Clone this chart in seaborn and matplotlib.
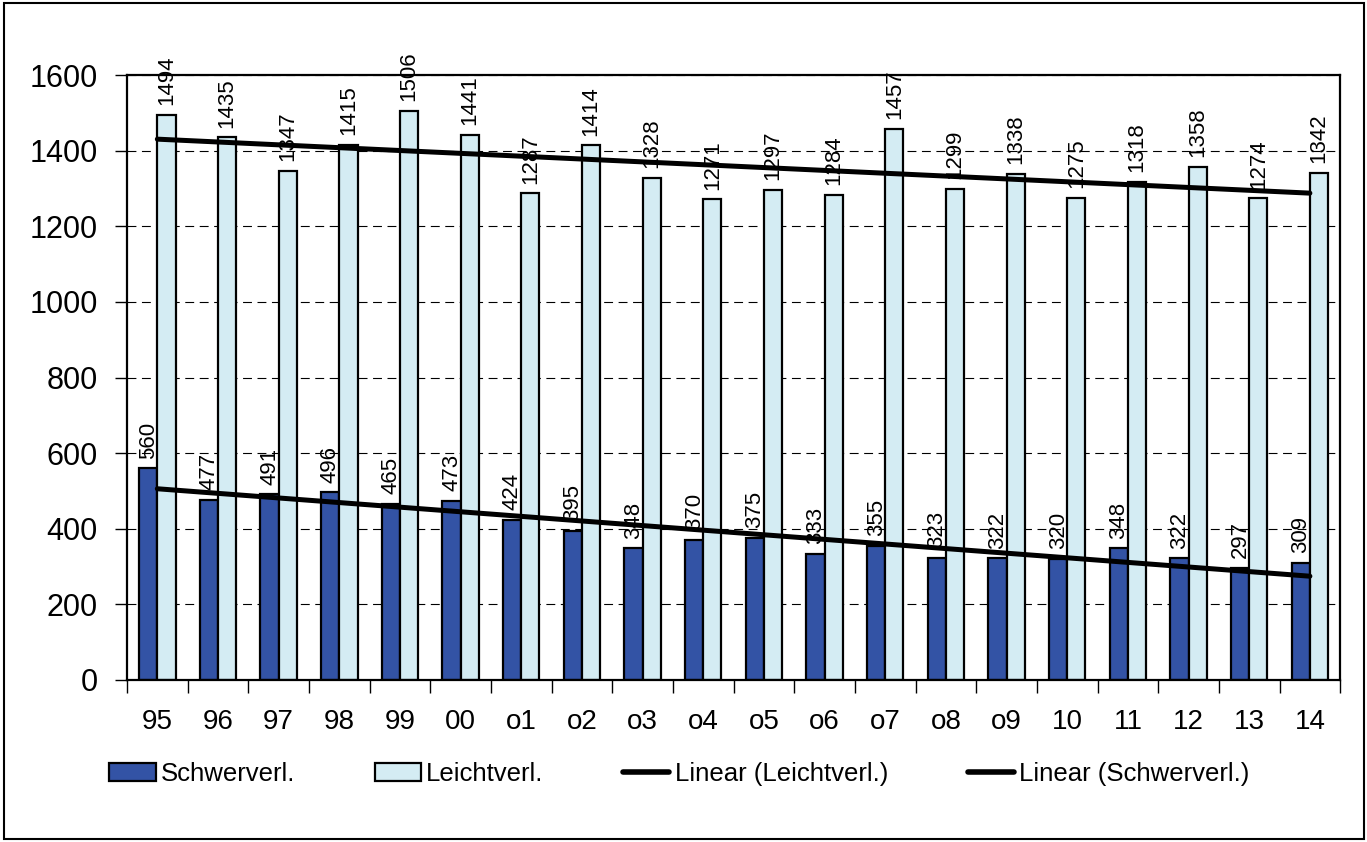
import numpy as np
import pandas as pd
import matplotlib
matplotlib.use('Agg')
import matplotlib.pyplot as plt
import seaborn as sns
from matplotlib.patches import Patch, Rectangle
from matplotlib.lines import Line2D

# ── Data ─────────────────────────────────────────────────────────────────────
years = ['95', '96', '97', '98', '99', '00', 'o1', 'o2', 'o3', 'o4',
         'o5', 'o6', 'o7', 'o8', 'o9', '10', '11', '12', '13', '14']
schwer = [560, 477, 491, 496, 465, 473, 424, 395, 348, 370,
          375, 333, 355, 323, 322, 320, 348, 322, 297, 309]
leicht = [1494, 1435, 1347, 1415, 1506, 1441, 1287, 1414, 1328, 1271,
          1297, 1284, 1457, 1299, 1338, 1275, 1318, 1358, 1274, 1342]
series = ['Schwerverl.', 'Leichtverl.']
colors = {'Schwerverl.': '#3353A5', 'Leichtverl.': '#D4ECF3'}

df = pd.DataFrame({
    'Jahr': years * 2,
    'Serie': [series[0]] * len(years) + [series[1]] * len(years),
    'Wert': schwer + leicht,
})

sns.set_theme(style='white')
plt.rcParams['font.family'] = ['Liberation Sans', 'DejaVu Sans']
plt.rcParams['text.color'] = 'black'
plt.rcParams['xtick.color'] = 'black'
plt.rcParams['ytick.color'] = 'black'

fig = plt.figure(figsize=(13.67, 8.42), dpi=100)
ax = fig.add_axes([0.0929, 0.1924, 0.8875, 0.7185])

sns.barplot(data=df, x='Jahr', y='Wert', hue='Serie', order=years,
            hue_order=series, palette=colors, width=0.6, dodge=True,
            edgecolor='black', linewidth=1.6, saturation=1, ax=ax)
ax.get_legend().remove()

for cont in ax.containers:
    ax.bar_label(cont, rotation=90, padding=7, fontsize=16)

# linear trend lines
idx = np.arange(len(years))
sns.regplot(x=idx, y=np.array(leicht), scatter=False, ci=None,
            color='black', line_kws={'lw': 3.6}, ax=ax)
sns.regplot(x=idx, y=np.array(schwer), scatter=False, ci=None,
            color='black', line_kws={'lw': 3.6}, ax=ax)

# ── Axes styling ─────────────────────────────────────────────────────────────
ax.set_xlim(-0.5, len(years) - 0.5)
ax.set_ylim(0, 1600)
ax.set_yticks(np.arange(0, 1601, 200))
ax.set_xticks(idx)
ax.set_xticklabels(years)
ax.set_xticks(np.arange(-0.5, len(years)), minor=True)
ax.set_xlabel('')
ax.set_ylabel('')
ax.tick_params(axis='x', which='major', length=0, pad=21, labelsize=20)
ax.tick_params(axis='x', which='minor', length=9, width=1, color='black',
               direction='out', bottom=True)
ax.tick_params(axis='y', length=9, width=1, color='black', direction='out',
               left=True, labelsize=22, pad=12)
ax.yaxis.grid(True, linestyle=(0, (8, 5)), color='black', linewidth=0.8)
ax.set_axisbelow(True)
for sp in ax.spines.values():
    sp.set_color('black')
    sp.set_linewidth(1.6)

# ── Legend ───────────────────────────────────────────────────────────────────
handles = [
    Patch(facecolor=colors['Schwerverl.'], edgecolor='black', lw=1.6),
    Patch(facecolor=colors['Leichtverl.'], edgecolor='black', lw=1.6),
    Line2D([0], [0], color='black', lw=4),
    Line2D([0], [0], color='black', lw=4),
]
labels = ['Schwerverl.', 'Leichtverl.', 'Linear (Leichtverl.)', 'Linear (Schwerverl.)']
fig.legend(handles, labels, loc='center', bbox_to_anchor=(0.497, 0.081),
           ncol=4, frameon=False, fontsize=18.5, handlelength=1.8,
           handleheight=0.7, handletextpad=0.2, columnspacing=3.1)

# outer frame
fig.add_artist(Rectangle((0.003, 0.003), 0.995, 0.994, transform=fig.transFigure,
                         fill=False, edgecolor='black', lw=1.5))

fig.savefig('out.png', dpi=100)
